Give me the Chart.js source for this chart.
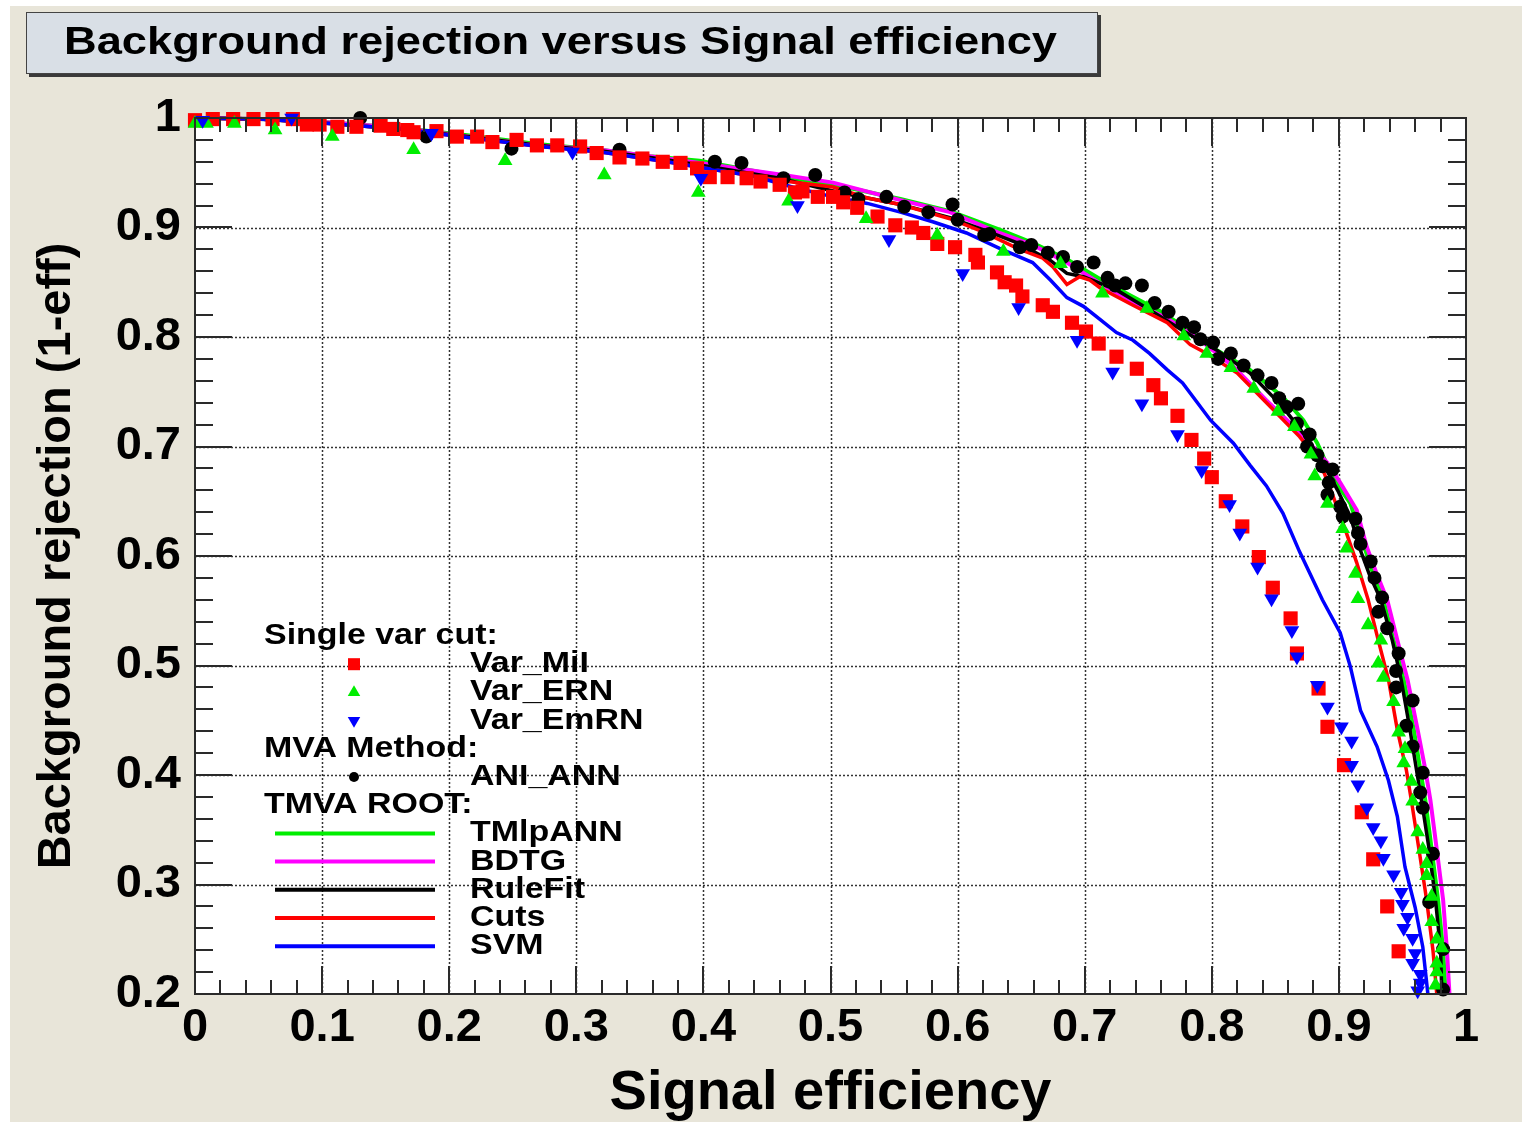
<!DOCTYPE html>
<html>
<head>
<meta charset="utf-8">
<title>Background rejection versus Signal efficiency</title>
<script src="https://cdn.jsdelivr.net/npm/chart.js@4.4.1/dist/chart.umd.min.js"></script>
<style>
  html, body { margin: 0; padding: 0; background: #fff; }
  canvas { display: block; }
</style>
</head>
<body>
<canvas id="rocChart" width="1524" height="1122"></canvas>
<script>
// ROC curves: [signal efficiency, background rejection]

// single variable cuts
const varMiI = [
  [0.000,0.998],[0.014,0.999],[0.030,0.999],[0.046,0.999],[0.061,0.999],[0.077,0.999],
  [0.088,0.994],[0.098,0.994],[0.112,0.992],[0.127,0.992],[0.146,0.993],[0.156,0.990],
  [0.167,0.989],[0.172,0.987],[0.190,0.988],[0.206,0.983],[0.222,0.983],[0.234,0.978],
  [0.253,0.980],[0.269,0.975],[0.285,0.975],[0.303,0.974],[0.316,0.968],[0.334,0.964],
  [0.352,0.963],[0.368,0.960],[0.382,0.959],[0.395,0.954],[0.405,0.946],[0.419,0.946],
  [0.434,0.945],[0.445,0.942],[0.460,0.939],[0.472,0.932],[0.478,0.933],[0.490,0.928],
  [0.502,0.928],[0.510,0.923],[0.521,0.918],[0.537,0.910],[0.551,0.902],[0.564,0.900],
  [0.573,0.895],[0.584,0.885],[0.598,0.882],[0.614,0.875],[0.616,0.868],[0.631,0.859],
  [0.637,0.850],[0.646,0.847],[0.651,0.837],[0.667,0.829],[0.675,0.823],[0.690,0.813],
  [0.701,0.805],[0.711,0.794],[0.725,0.782],[0.741,0.771],[0.754,0.756],[0.760,0.744],
  [0.773,0.728],[0.784,0.706],[0.794,0.689],[0.800,0.672],[0.811,0.650],[0.824,0.627],
  [0.837,0.599],[0.848,0.571],[0.862,0.543],[0.867,0.511],[0.884,0.479],[0.891,0.444],
  [0.904,0.409],[0.918,0.366],[0.927,0.323],[0.938,0.280],[0.947,0.239]
];
const varERN = [
  [0.000,0.995],[0.009,0.995],[0.031,0.995],[0.063,0.989],[0.108,0.983],[0.172,0.971],
  [0.244,0.961],[0.322,0.948],[0.396,0.932],[0.467,0.924],[0.528,0.908],[0.584,0.893],
  [0.636,0.878],[0.681,0.867],[0.714,0.840],[0.749,0.826],[0.778,0.801],[0.796,0.785],
  [0.815,0.772],[0.833,0.753],[0.852,0.732],[0.865,0.718],[0.878,0.693],[0.881,0.673],
  [0.891,0.648],[0.903,0.625],[0.906,0.607],[0.913,0.584],[0.915,0.561],[0.923,0.537],
  [0.933,0.523],[0.931,0.502],[0.935,0.489],[0.943,0.467],[0.947,0.439],[0.952,0.424],
  [0.951,0.411],[0.957,0.394],[0.958,0.376],[0.962,0.348],[0.966,0.332],[0.969,0.319],
  [0.969,0.308],[0.973,0.289],[0.973,0.266],[0.977,0.250],[0.981,0.242],[0.977,0.228],
  [0.977,0.220],[0.976,0.208]
];
const varEmRN = [
  [0.006,0.998],[0.076,1.000],[0.186,0.986],[0.297,0.969],[0.398,0.945],[0.474,0.920],
  [0.546,0.889],[0.604,0.858],[0.648,0.827],[0.694,0.797],[0.722,0.768],[0.745,0.739],
  [0.773,0.711],[0.792,0.678],[0.814,0.647],[0.822,0.621],[0.836,0.590],[0.847,0.561],
  [0.863,0.532],[0.867,0.508],[0.883,0.482],[0.891,0.462],[0.902,0.444],[0.910,0.431],
  [0.910,0.409],[0.915,0.391],[0.922,0.370],[0.927,0.352],[0.933,0.340],[0.935,0.324],
  [0.943,0.309],[0.949,0.293],[0.950,0.282],[0.954,0.270],[0.951,0.260],[0.958,0.251],
  [0.960,0.237],[0.958,0.228],[0.964,0.218],[0.964,0.210],[0.962,0.203]
];

// MVA method
const aniANN = [
  [0.130,1.000],[0.182,0.983],[0.249,0.972],[0.334,0.971],[0.409,0.960],[0.430,0.959],
  [0.463,0.945],[0.488,0.948],[0.511,0.932],[0.522,0.926],[0.544,0.928],[0.558,0.919],
  [0.577,0.914],[0.596,0.921],[0.600,0.907],[0.621,0.893],[0.625,0.894],[0.649,0.882],
  [0.658,0.884],[0.671,0.877],[0.683,0.873],[0.694,0.864],[0.707,0.868],[0.718,0.854],
  [0.724,0.847],[0.732,0.849],[0.745,0.847],[0.755,0.831],[0.766,0.823],[0.777,0.813],
  [0.786,0.809],[0.791,0.798],[0.801,0.795],[0.805,0.780],[0.815,0.785],[0.825,0.774],
  [0.836,0.765],[0.847,0.758],[0.853,0.744],[0.859,0.736],[0.868,0.739],[0.867,0.721],
  [0.877,0.711],[0.875,0.700],[0.883,0.692],[0.887,0.682],[0.895,0.679],[0.892,0.667],
  [0.891,0.656],[0.901,0.645],[0.903,0.636],[0.913,0.634],[0.915,0.621],[0.917,0.611],
  [0.925,0.595],[0.928,0.580],[0.934,0.562],[0.931,0.549],[0.938,0.534],[0.947,0.511],
  [0.945,0.495],[0.945,0.480],[0.958,0.468],[0.953,0.445],[0.958,0.426],[0.966,0.402],
  [0.964,0.384],[0.966,0.370],[0.974,0.328],[0.971,0.284],[0.982,0.241],[0.982,0.204]
];

// TMVA ROOT methods
const tmlpANN = [
  [0.000,1.000],[0.051,0.999],[0.106,0.996],[0.161,0.991],[0.216,0.984],[0.271,0.976],
  [0.319,0.971],[0.358,0.965],[0.397,0.961],[0.466,0.946],[0.515,0.936],[0.555,0.926],
  [0.594,0.915],[0.633,0.898],[0.659,0.886],[0.686,0.871],[0.712,0.853],[0.736,0.838],
  [0.762,0.822],[0.783,0.805],[0.804,0.788],[0.830,0.770],[0.856,0.745],[0.872,0.724],
  [0.883,0.703],[0.895,0.672],[0.909,0.648],[0.919,0.612],[0.926,0.587],[0.935,0.560],
  [0.943,0.523],[0.951,0.487],[0.959,0.441],[0.964,0.405],[0.968,0.377],[0.973,0.332],
  [0.978,0.286],[0.982,0.240],[0.984,0.200]
];
const bdtg = [
  [0.000,1.000],[0.051,0.999],[0.106,0.996],[0.161,0.991],[0.216,0.983],[0.271,0.975],
  [0.319,0.971],[0.358,0.965],[0.397,0.959],[0.463,0.948],[0.502,0.941],[0.555,0.925],
  [0.594,0.914],[0.633,0.895],[0.659,0.884],[0.686,0.868],[0.712,0.849],[0.738,0.832],
  [0.765,0.817],[0.791,0.797],[0.817,0.773],[0.843,0.742],[0.862,0.721],[0.877,0.703],
  [0.891,0.685],[0.901,0.667],[0.914,0.642],[0.922,0.608],[0.930,0.583],[0.938,0.560],
  [0.946,0.523],[0.954,0.487],[0.962,0.441],[0.968,0.405],[0.972,0.377],[0.977,0.332],
  [0.982,0.286],[0.985,0.240],[0.987,0.200]
];
const ruleFit = [
  [0.000,1.000],[0.051,0.999],[0.106,0.995],[0.161,0.990],[0.216,0.983],[0.271,0.975],
  [0.319,0.970],[0.371,0.962],[0.397,0.957],[0.460,0.945],[0.507,0.932],[0.555,0.921],
  [0.594,0.909],[0.620,0.898],[0.647,0.886],[0.673,0.870],[0.686,0.858],[0.699,0.855],
  [0.725,0.843],[0.751,0.825],[0.777,0.806],[0.804,0.788],[0.830,0.767],[0.856,0.736],
  [0.872,0.712],[0.885,0.690],[0.899,0.660],[0.909,0.636],[0.917,0.605],[0.924,0.583],
  [0.933,0.560],[0.942,0.523],[0.949,0.487],[0.956,0.441],[0.961,0.405],[0.965,0.377],
  [0.971,0.332],[0.976,0.286],[0.980,0.240],[0.981,0.200]
];
const cutsRoc = [
  [0.000,1.000],[0.051,0.999],[0.106,0.995],[0.161,0.990],[0.216,0.982],[0.271,0.974],
  [0.319,0.969],[0.371,0.960],[0.397,0.955],[0.460,0.943],[0.502,0.937],[0.529,0.927],
  [0.555,0.921],[0.594,0.908],[0.620,0.896],[0.647,0.881],[0.667,0.872],[0.675,0.864],
  [0.686,0.848],[0.696,0.855],[0.704,0.852],[0.712,0.845],[0.738,0.829],[0.765,0.813],
  [0.783,0.793],[0.796,0.785],[0.820,0.767],[0.843,0.740],[0.869,0.709],[0.885,0.686],
  [0.895,0.656],[0.905,0.624],[0.914,0.594],[0.923,0.560],[0.931,0.523],[0.939,0.487],
  [0.946,0.441],[0.953,0.405],[0.957,0.377],[0.963,0.332],[0.969,0.286],[0.974,0.240],
  [0.977,0.200]
];
const svmRoc = [
  [0.000,1.000],[0.051,0.999],[0.106,0.995],[0.161,0.990],[0.216,0.982],[0.271,0.974],
  [0.319,0.969],[0.371,0.960],[0.397,0.955],[0.439,0.947],[0.470,0.937],[0.502,0.928],
  [0.529,0.922],[0.555,0.914],[0.581,0.905],[0.607,0.895],[0.633,0.881],[0.659,0.868],
  [0.673,0.852],[0.686,0.836],[0.699,0.828],[0.712,0.816],[0.725,0.804],[0.738,0.797],
  [0.751,0.785],[0.765,0.770],[0.777,0.758],[0.799,0.724],[0.817,0.703],[0.830,0.683],
  [0.843,0.664],[0.856,0.639],[0.869,0.604],[0.887,0.560],[0.901,0.530],[0.909,0.499],
  [0.917,0.459],[0.930,0.426],[0.939,0.395],[0.946,0.362],[0.952,0.316],[0.960,0.279],
  [0.966,0.243],[0.970,0.200]
];

const xTickLabels = ['0','0.1','0.2','0.3','0.4','0.5','0.6','0.7','0.8','0.9','1'];
const yTickLabels = ['0.2','0.3','0.4','0.5','0.6','0.7','0.8','0.9','1'];

const canvasBeige = '#e8e5d9';
const fontFamily = '"Liberation Sans", Arial, Helvetica, sans-serif';

const toXY = pts => pts.map(p => ({ x: p[0], y: p[1] }));

function curve(label, pts, color, width, order) {
  return {
    label, data: toXY(pts), showLine: true, borderColor: color, backgroundColor: color,
    borderWidth: width, pointRadius: 0, pointHoverRadius: 0, tension: 0,
    fill: false, order, clip: false
  };
}

function markers(label, pts, color, style, radius, rotation, order) {
  return {
    label, data: toXY(pts), showLine: false, backgroundColor: color, borderColor: color,
    borderWidth: 0, pointStyle: style, pointRadius: radius, pointHoverRadius: radius,
    pointRotation: rotation, order, clip: false
  };
}

const datasets = [
  markers('Var_MiI', varMiI, '#ff0000', 'rect', 10, 0, 3),
  markers('Var_ERN', varERN, '#00ee00', 'triangle', 8.5, 0, 2),
  markers('Var_EmRN', varEmRN, '#0000ff', 'triangle', 8.5, 180, 1),
  markers('ANI_ANN', aniANN, '#000000', 'circle', 7, 0, 4),
  curve('TMlpANN', tmlpANN, '#00ee00', 4, 9),
  curve('BDTG', bdtg, '#ff00ff', 4, 8),
  curve('RuleFit', ruleFit, '#000000', 3.5, 7),
  curve('Cuts', cutsRoc, '#ff0000', 3.5, 6),
  curve('SVM', svmRoc, '#0000ff', 3.5, 5)
];

// legend rows: group headers and entries pointing at datasets
const legendRows = [
  { header: 'Single var cut:' },
  { ds: 0 }, { ds: 1 }, { ds: 2 },
  { header: 'MVA Method:' },
  { ds: 3 },
  { header: 'TMVA ROOT:' },
  { ds: 4 }, { ds: 5 }, { ds: 6 }, { ds: 7 }, { ds: 8 }
];

// ROOT style canvas: beige pad, title pave, dotted grid, ticks on all four sides
const rootPad = {
  id: 'rootPad',
  beforeDraw(chart) {
    const { ctx, chartArea: a } = chart;
    ctx.save();
    ctx.fillStyle = '#ffffff';
    ctx.fillRect(0, 0, chart.width, chart.height);
    ctx.fillStyle = canvasBeige;
    ctx.fillRect(10, 6, chart.width - 12, chart.height - 6);
    ctx.fillStyle = '#ffffff';
    ctx.fillRect(a.left, a.top, a.right - a.left, a.bottom - a.top);

    // title pave with shadow
    ctx.fillStyle = '#3a3a3a';
    ctx.fillRect(29, 15, 1072, 62);
    ctx.fillStyle = '#d9dfe6';
    ctx.fillRect(26, 12, 1072, 62);
    ctx.strokeStyle = '#444';
    ctx.lineWidth = 1;
    ctx.strokeRect(26.5, 12.5, 1071, 61);
    ctx.fillStyle = '#000';
    ctx.font = 'bold 39px ' + fontFamily;
    ctx.textBaseline = 'middle';
    const title = 'Background rejection versus Signal efficiency';
    const sx = 993 / ctx.measureText(title).width;
    ctx.translate(64, 43);
    ctx.scale(sx, 1);
    ctx.fillText(title, 0, 0);
    ctx.restore();
  },
  beforeDatasetsDraw(chart) {
    const { ctx, chartArea: a, scales: { x, y } } = chart;
    ctx.save();
    ctx.strokeStyle = '#333';
    ctx.lineWidth = 1.5;
    ctx.setLineDash([2, 2]);
    x.ticks.forEach(t => {
      if (t.value <= x.min || t.value >= x.max) return;
      const px = Math.round(x.getPixelForValue(t.value)) + 0.5;
      ctx.beginPath(); ctx.moveTo(px, a.top); ctx.lineTo(px, a.bottom); ctx.stroke();
    });
    y.ticks.forEach(t => {
      if (t.value <= y.min + 1e-9 || t.value >= y.max - 1e-9) return;
      const py = Math.round(y.getPixelForValue(t.value)) + 0.5;
      ctx.beginPath(); ctx.moveTo(a.left, py); ctx.lineTo(a.right, py); ctx.stroke();
    });
    ctx.restore();
  },
  afterDatasetsDraw(chart) {
    const { ctx, chartArea: a, scales: { x, y } } = chart;
    ctx.save();
    ctx.strokeStyle = '#2a2a2a';
    ctx.lineWidth = 2;
    ctx.setLineDash([]);
    // x ticks, 5 divisions per major step
    for (let i = 0; i <= 50; i++) {
      const px = Math.round(x.getPixelForValue(i * 0.02));
      const len = i % 5 === 0 ? 28 : 14;
      ctx.beginPath();
      ctx.moveTo(px, a.bottom); ctx.lineTo(px, a.bottom - len);
      ctx.moveTo(px, a.top); ctx.lineTo(px, a.top + len);
      ctx.stroke();
    }
    for (let i = 0; i <= 40; i++) {
      const py = Math.round(y.getPixelForValue(0.2 + i * 0.02));
      const len = i % 5 === 0 ? 37 : 18;
      ctx.beginPath();
      ctx.moveTo(a.left, py); ctx.lineTo(a.left + len, py);
      ctx.moveTo(a.right, py); ctx.lineTo(a.right - len, py);
      ctx.stroke();
    }
    ctx.strokeRect(a.left, a.top, a.right - a.left, a.bottom - a.top);

    // legend
    const rowTop = 636, rowStep = 28.2;
    ctx.font = 'bold 29px ' + fontFamily;
    ctx.textBaseline = 'middle';
    ctx.fillStyle = '#000';
    legendRows.forEach((row, i) => {
      const ry = rowTop + i * rowStep;
      const text = row.header || chart.data.datasets[row.ds].label;
      ctx.save();
      ctx.translate(row.header ? 264 : 470, ry);
      ctx.scale(1.17, 1);
      ctx.fillStyle = '#000';
      ctx.fillText(text, 0, 0);
      ctx.restore();
      if (row.header) return;
      const ds = chart.data.datasets[row.ds];
      if (ds.showLine) {
        ctx.strokeStyle = ds.borderColor;
        ctx.lineWidth = 4;
        ctx.beginPath(); ctx.moveTo(275, ry); ctx.lineTo(435, ry); ctx.stroke();
      } else {
        ctx.fillStyle = ds.backgroundColor;
        const r = ds.pointStyle === 'circle' ? 5 : ds.pointRadius * 0.85;
        Chart.helpers.drawPoint(ctx, {
          pointStyle: ds.pointStyle, radius: r, rotation: ds.pointRotation, borderWidth: 0
        }, 354, ry);
      }
    });
    ctx.restore();
  }
};

const tickFont = { family: fontFamily, size: 47, weight: 'bold', lineHeight: 1 };

new Chart(document.getElementById('rocChart'), {
  type: 'scatter',
  data: { datasets },
  options: {
    responsive: false,
    animation: false,
    events: [],
    devicePixelRatio: 1,
    layout: { padding: { left: 0, top: 118, right: 58, bottom: 0 } },
    plugins: {
      legend: { display: false },
      tooltip: { enabled: false },
      title: { display: false }
    },
    scales: {
      x: {
        type: 'linear', min: 0, max: 1,
        afterFit: s => { s.height = 128; },
        grid: { display: false, drawTicks: false },
        border: { display: false },
        ticks: {
          stepSize: 0.1, autoSkip: false, maxRotation: 0, padding: 11, color: '#000',
          font: tickFont, callback: (v, i) => xTickLabels[i]
        },
        title: {
          display: true, text: 'Signal efficiency', color: '#000',
          font: { family: fontFamily, size: 56, weight: 'bold', lineHeight: 1 },
          padding: { top: 0, bottom: 0 }
        }
      },
      y: {
        type: 'linear', min: 0.2, max: 1,
        afterFit: s => { s.width = 195; },
        grid: { display: false, drawTicks: false },
        border: { display: false },
        ticks: {
          stepSize: 0.1, autoSkip: false, padding: 14, color: '#000',
          font: tickFont, callback: (v, i) => yTickLabels[i]
        },
        title: {
          display: true, text: 'Background rejection (1-eff)', color: '#000',
          font: { family: fontFamily, size: 47, weight: 'bold', lineHeight: 1 },
          padding: { top: 34, bottom: 0 }
        }
      }
    }
  },
  plugins: [rootPad]
});
</script>
</body>
</html>
